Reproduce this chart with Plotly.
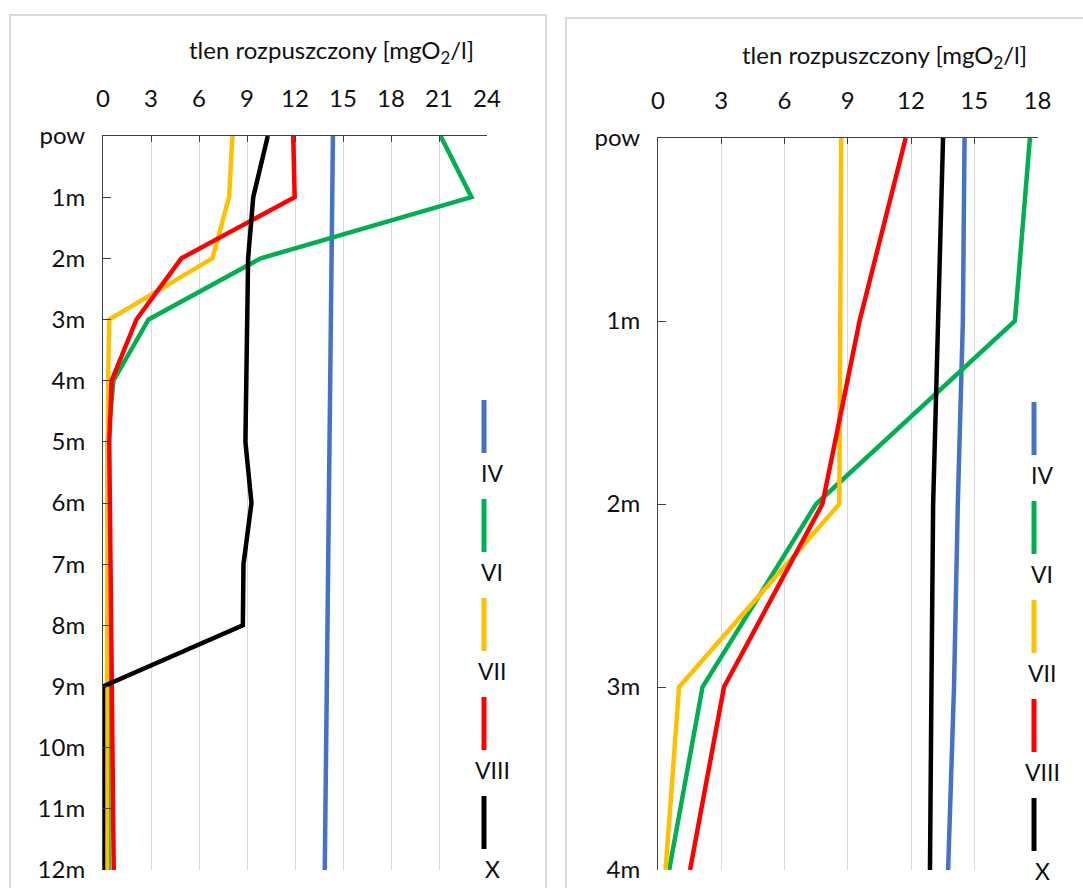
import plotly.graph_objects as go

# Figure size in pixels (margins are zero, so paper coords map directly to pixels)
W, H = 1083, 888

series = ["IV", "VI", "VII", "VIII", "X"]
colors = ["#4472C4", "#00B050", "#FFC000", "#FF0000", "#000000"]

# Left profile: depths from surface down to 12 m
depth_left = ["pow", "1m", "2m", "3m", "4m", "5m", "6m", "7m", "8m", "9m", "10m", "11m", "12m"]
left_IV = [14.37, 14.33, 14.29, 14.25, 14.18, 14.14, 14.09, 14.05, 14.0, 13.96, 13.94, 13.9, 13.86]
left_VI = [21.1, 23.03, 9.86, 2.85, 0.65, 0.3, 0.3, 0.3, 0.3, 0.3, 0.3, 0.35, 0.35]
left_VII = [8.09, 7.88, 6.84, 0.39, 0.32, 0.3, 0.25, 0.25, 0.25, 0.25, 0.25, 0.25, 0.25]
left_VIII = [11.89, 11.98, 4.9, 2.09, 0.54, 0.39, 0.43, 0.47, 0.52, 0.56, 0.6, 0.65, 0.67]
left_X = [10.3, 9.39, 9.07, 9.0, 8.98, 8.9, 9.28, 8.78, 8.74, 0.0, 0.0, 0.0, 0.0]

# Right profile: depths from surface down to 4 m
depth_right = ["pow", "1m", "2m", "3m", "4m"]
right_IV = [14.54, 14.46, 14.22, 14.04, 13.76]
right_VI = [17.64, 16.93, 7.5, 2.11, 0.53]
right_VII = [8.69, 8.65, 8.6, 1.0, 0.36]
right_VIII = [11.75, 9.56, 7.8, 3.13, 1.52]
right_X = [13.52, 13.27, 13.05, 12.97, 12.9]

x_ticks_left = [0, 3, 6, 9, 12, 15, 18, 21, 24]
x_ticks_right = [0, 3, 6, 9, 12, 15, 18]

axis_title = "tlen rozpuszczony [mgO<sub>2</sub>/l]"

FONT = "Lato, 'Open Sans', sans-serif"
FS = 24
TXT = "#111111"
LW = 4.5


def px_x(p):
    return p / W


def px_y(p):
    return 1 - p / H


fig = go.Figure()

left_vals = [left_IV, left_VI, left_VII, left_VIII, left_X]
right_vals = [right_IV, right_VI, right_VII, right_VIII, right_X]

for name, col, vals in zip(series, colors, left_vals):
    fig.add_trace(go.Scatter(x=vals, y=depth_left, mode="lines", name=name,
                             line=dict(color=col, width=LW), xaxis="x", yaxis="y",
                             showlegend=False))
for name, col, vals in zip(series, colors, right_vals):
    fig.add_trace(go.Scatter(x=vals, y=depth_right, mode="lines", name=name,
                             line=dict(color=col, width=LW), xaxis="x2", yaxis="y2",
                             showlegend=False))

xaxis_common = dict(
    side="top", showgrid=True, gridcolor="#d9d9d9", gridwidth=1,
    showline=True, linecolor="#404040", linewidth=1,
    ticks="inside", ticklen=6, tickcolor="#404040",
    tickfont=dict(family=FONT, size=FS, color=TXT),
    ticklabelstandoff=18, zeroline=False, fixedrange=True, automargin=False,
)
yaxis_common = dict(
    type="category", showgrid=False, showline=True, linecolor="#404040", linewidth=1,
    ticks="inside", ticklen=8, tickcolor="#404040",
    tickfont=dict(family=FONT, size=FS, color=TXT),
    ticklabelstandoff=12, zeroline=False, fixedrange=True, automargin=False,
)

fig.update_layout(
    template="none",
    width=W, height=H, autosize=False,
    margin=dict(l=0, r=0, t=0, b=0, pad=0, autoexpand=False),
    paper_bgcolor="white", plot_bgcolor="white",
    xaxis=dict(xaxis_common, domain=[px_x(103), px_x(487)], range=[0, 24],
               tickvals=x_ticks_left, anchor="y"),
    yaxis=dict(yaxis_common, domain=[px_y(870), px_y(136)],
               categoryorder="array", categoryarray=depth_left,
               range=[len(depth_left) - 1, 0], anchor="x"),
    xaxis2=dict(xaxis_common, domain=[px_x(658), px_x(1037.5)], range=[0, 18],
                tickvals=x_ticks_right, anchor="y2"),
    yaxis2=dict(yaxis_common, domain=[px_y(870), px_y(138)],
                categoryorder="array", categoryarray=depth_right,
                range=[len(depth_right) - 1, 0], anchor="x2"),
)

shapes = []
annotations = []

# Chart frames
for x0, y0, x1 in [(10, 15, 546), (566, 18, 1095)]:
    shapes.append(dict(type="rect", xref="paper", yref="paper",
                       x0=px_x(x0), x1=px_x(x1), y0=px_y(y0), y1=px_y(905),
                       line=dict(color="#d9d9d9", width=2), fillcolor="rgba(0,0,0,0)",
                       layer="below"))

# Axis titles
for cx, cy in [(331, 51), (884, 57)]:
    annotations.append(dict(text=axis_title, xref="paper", yref="paper",
                            x=px_x(cx), y=px_y(cy), showarrow=False,
                            xanchor="center", yanchor="middle",
                            font=dict(family=FONT, size=FS, color=TXT)))

# Vertical legends inside each plot
for seg_x, top in [(484, 400), (1034, 402)]:
    for i, (name, col) in enumerate(zip(series, colors)):
        y0 = top + i * 99
        y1 = y0 + 53
        shapes.append(dict(type="line", xref="paper", yref="paper",
                           x0=px_x(seg_x), x1=px_x(seg_x), y0=px_y(y0), y1=px_y(y1),
                           line=dict(color=col, width=5)))
        annotations.append(dict(text=name, xref="paper", yref="paper",
                                x=px_x(seg_x + 8), y=px_y(y1 + 20), showarrow=False,
                                xanchor="center", yanchor="middle",
                                font=dict(family=FONT, size=FS - 1, color=TXT)))

fig.update_layout(shapes=shapes, annotations=annotations)

fig.write_html("out.html")
